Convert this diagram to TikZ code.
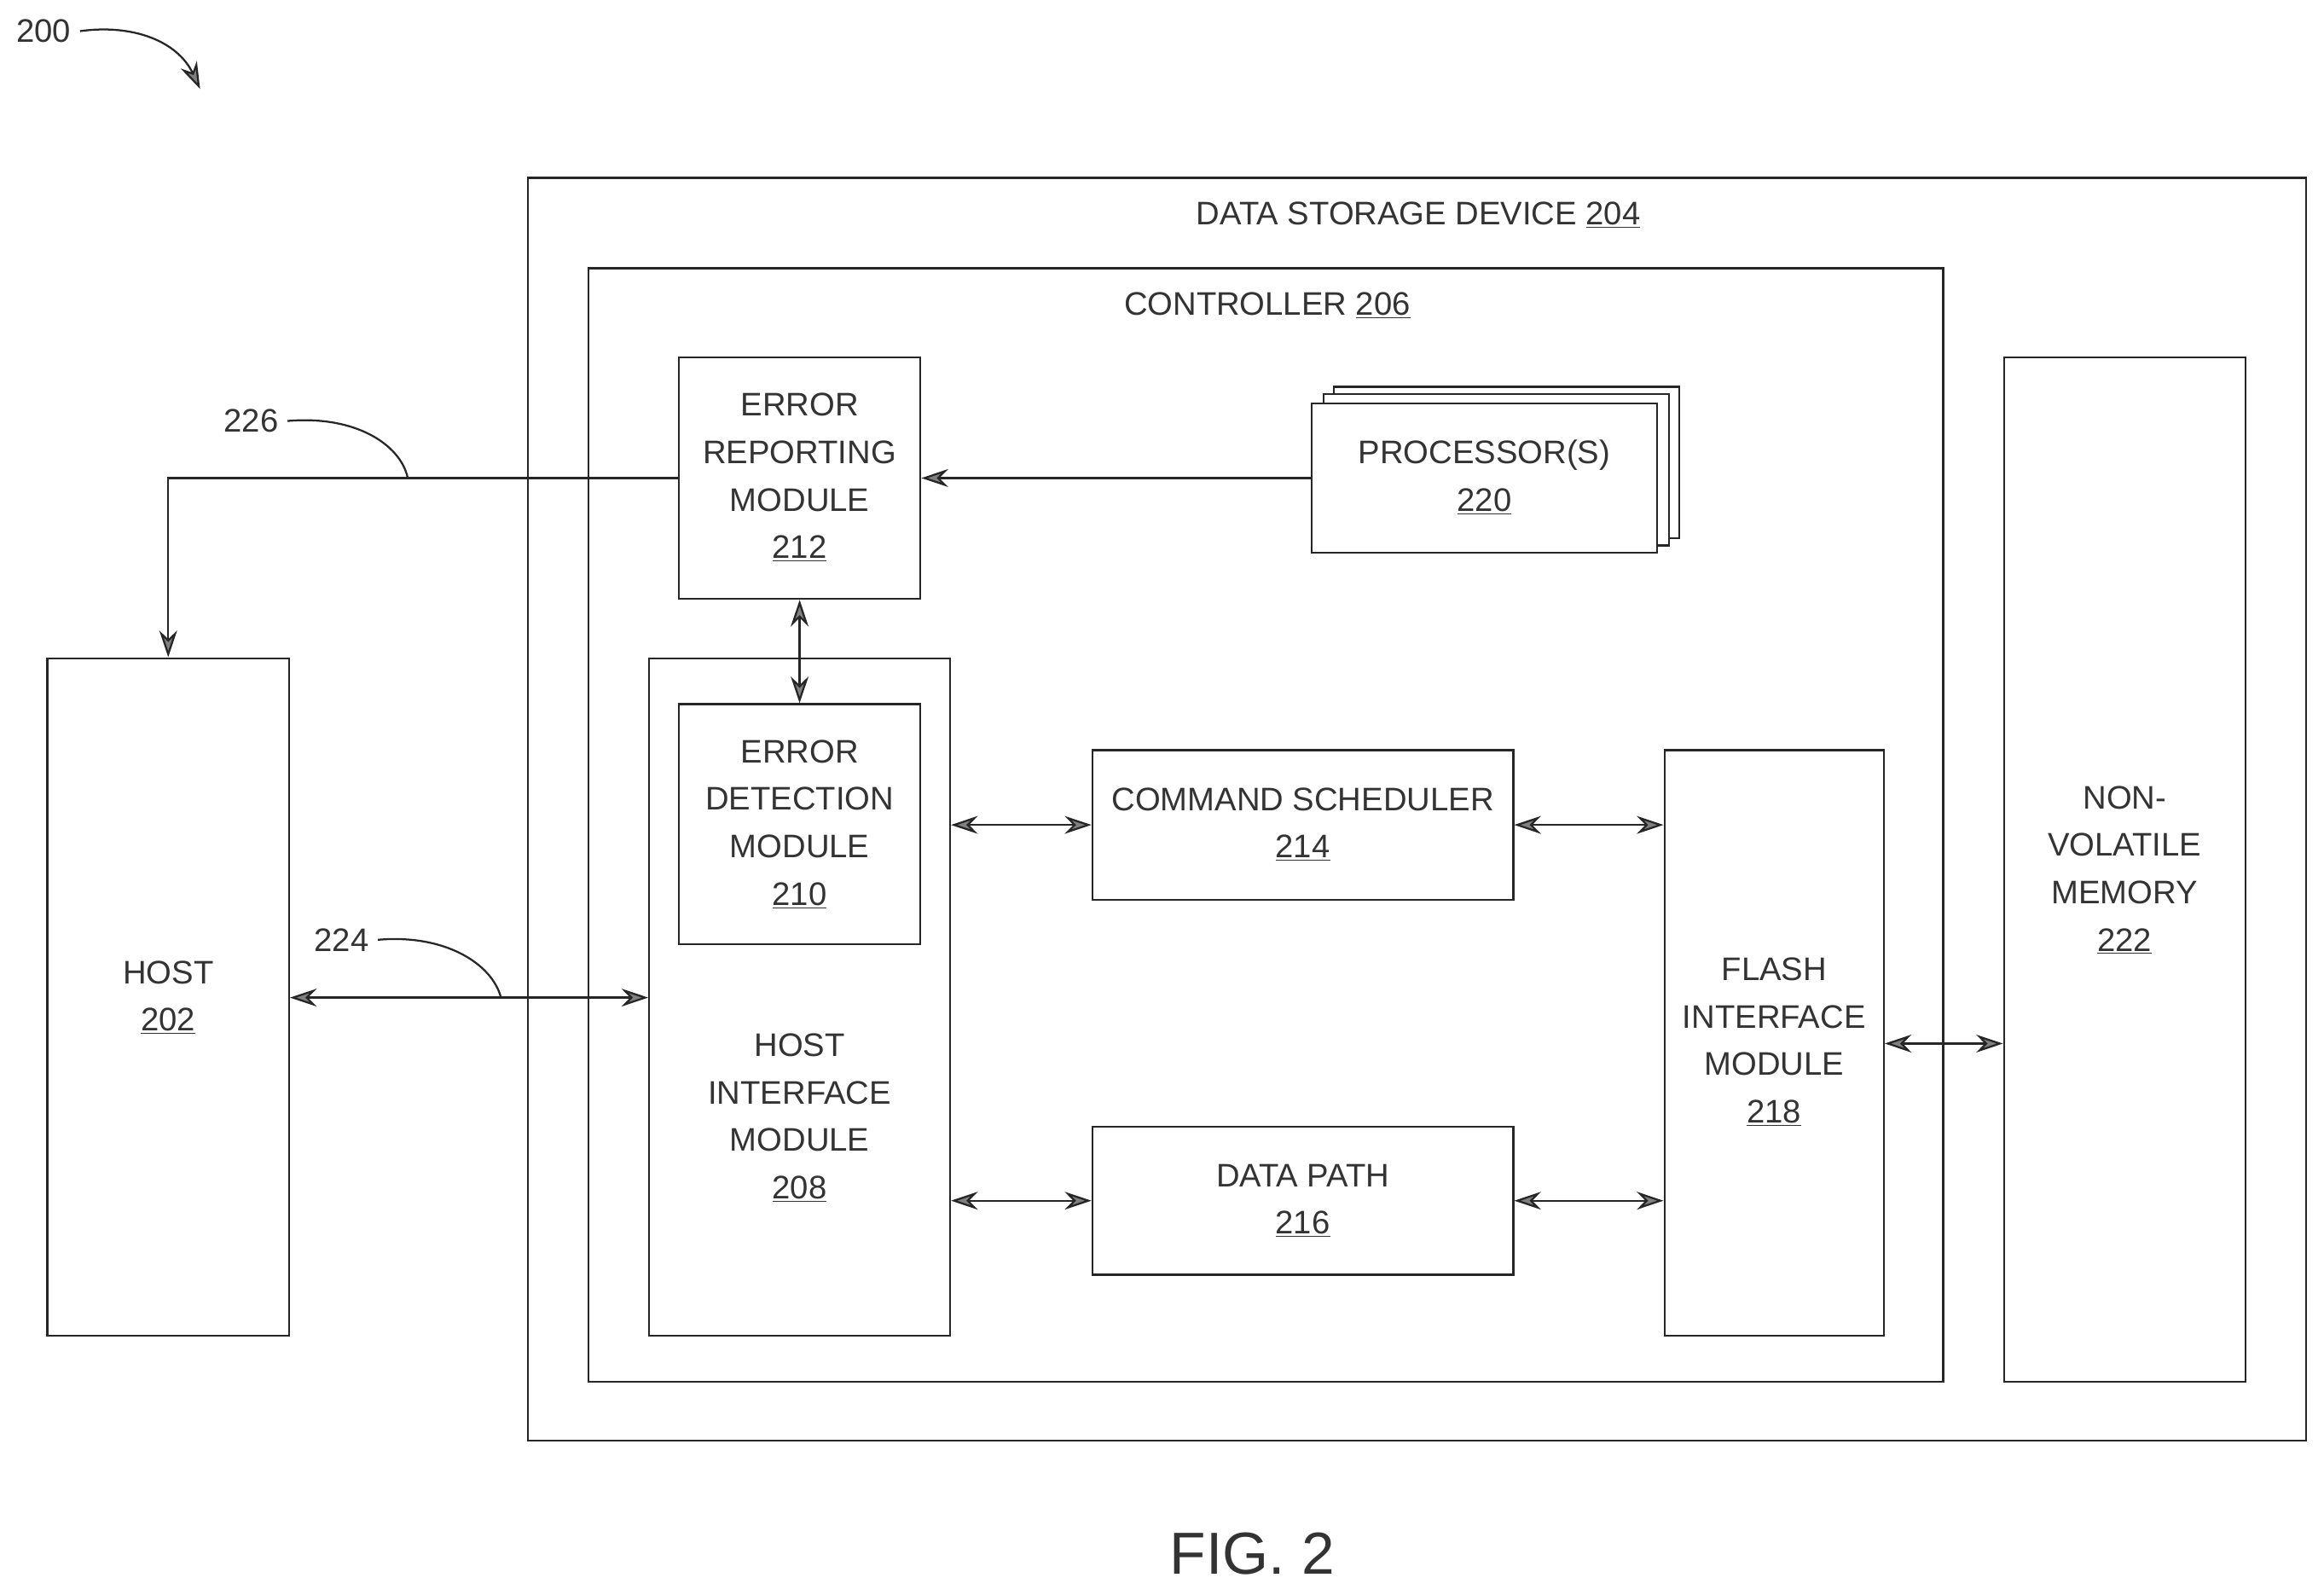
\documentclass[tikz,border=0pt]{standalone}
\usepackage{fontspec}
\setmainfont{Liberation Sans}
\usetikzlibrary{arrows.meta}
\begin{document}
\begin{tikzpicture}[x=1pt,y=-1pt,
  box/.style={draw=black!85,line width=1.3pt},
  lbl/.style={font=\fontsize{22}{32}\selectfont,text=black!80,align=center,inner sep=0pt},
  con/.style={draw=black!85,line width=1.3pt},
  both/.style={con,{Stealth[length=18pt,width=12pt,fill=black!50]}-{Stealth[length=18pt,width=12pt,fill=black!50]}},
  one/.style={con,-{Stealth[length=18pt,width=12pt,fill=black!50]}}]
\useasboundingbox (0,0) rectangle (1568,1076);
\fill[white] (0,0) rectangle (1568,1076);
% boxes
\draw[box] (356,120) rectangle (1556,972);
\node[lbl] at (957,145) {DATA STORAGE DEVICE \underline{204}};
\draw[box] (397,181) rectangle (1311,932);
\node[lbl] at (855,206) {CONTROLLER \underline{206}};
\node[box,minimum width=163,minimum height=163,inner sep=0] (er) at (539.5,322.5) {};
\node[lbl] at (539.5,322) {ERROR\\REPORTING\\MODULE\\\underline{212}};
\draw[box,fill=white] (900,261) rectangle (1133,363);
\draw[box,fill=white] (893,266) rectangle (1126,368);
\node[box,fill=white,minimum width=233,minimum height=101,inner sep=0] (pr) at (1001.5,322.5) {};
\node[lbl] at (1001.5,322) {PROCESSOR(S)\\\underline{220}};
\node[box,minimum width=203,minimum height=457,inner sep=0] (him) at (539.5,672.5) {};
\node[lbl] at (539.5,754) {HOST\\INTERFACE\\MODULE\\\underline{208}};
\node[box,minimum width=163,minimum height=162,inner sep=0] (ed) at (539.5,556) {};
\node[lbl] at (539.5,556) {ERROR\\DETECTION\\MODULE\\\underline{210}};
\node[box,minimum width=284,minimum height=101,inner sep=0] (cs) at (879,556.5) {};
\node[lbl] at (879,556) {COMMAND SCHEDULER\\\underline{214}};
\node[box,minimum width=284,minimum height=100,inner sep=0] (dp) at (879,810) {};
\node[lbl] at (879,810) {DATA PATH\\\underline{216}};
\node[box,minimum width=148,minimum height=395,inner sep=0] (fi) at (1197,703.5) {};
\node[lbl] at (1197,703) {FLASH\\INTERFACE\\MODULE\\\underline{218}};
\node[box,minimum width=163,minimum height=691,inner sep=0] (nv) at (1433.5,586.5) {};
\node[lbl] at (1433.5,587) {NON-\\VOLATILE\\MEMORY\\\underline{222}};
\node[box,minimum width=163,minimum height=457,inner sep=0] (host) at (113.5,672.5) {};
\node[lbl] at (113.5,673) {HOST\\\underline{202}};
% connectors
\draw[one] (pr.west) -- (er.east);
\draw[one] (er.west) -| (host.north);
\draw[both] (er.south) -- (ed.north);
\draw[both] (host.east |- 0,673) -- (him.west |- 0,673);
\draw[both] (him.east |- cs.west) -- (cs.west);
\draw[both] (him.east |- dp.west) -- (dp.west);
\draw[both] (cs.east) -- (fi.west |- cs.east);
\draw[both] (dp.east) -- (fi.west |- dp.east);
\draw[both] (fi.east |- 0,704) -- (nv.west |- 0,704);
% reference labels
\node[lbl,anchor=east] (l226) at (188,284) {226};
\coordinate (c226) at (275,322);
\draw[con] ([xshift=6pt]l226.east) .. controls (240,280) and (270,300) .. (c226);
\node[lbl,anchor=east] (l224) at (249,634) {224};
\coordinate (c224) at (338,673);
\draw[con] ([xshift=6pt]l224.east) .. controls (300,630) and (332,650) .. (c224);
\node[lbl,anchor=east] (l200) at (48,21) {200};
\coordinate (c200) at (135,60);
\draw[one] ([xshift=6pt]l200.east) .. controls (90,16) and (120,28) .. (c200);
\node[font=\fontsize{40}{44}\selectfont,text=black!80] (fig) at (845,1048) {FIG. 2};
\end{tikzpicture}
\end{document}
